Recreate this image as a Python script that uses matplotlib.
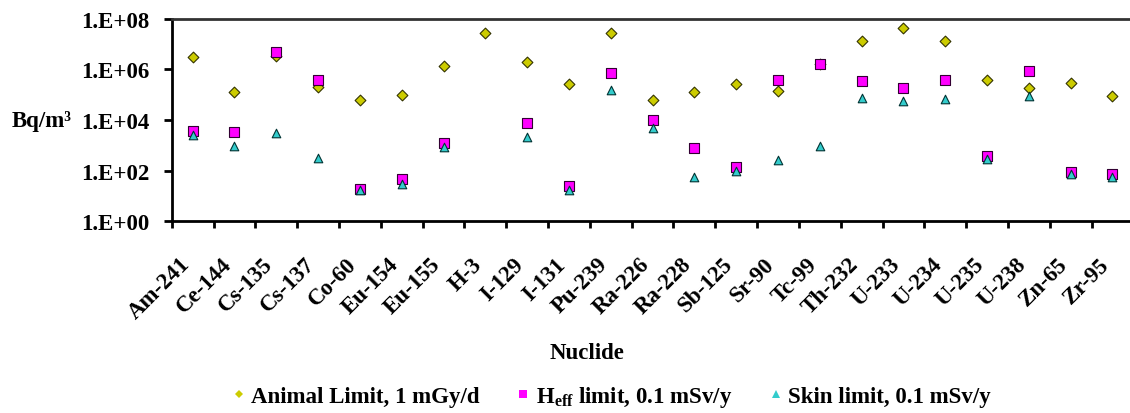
import numpy as np
import matplotlib
matplotlib.use("Agg")
import matplotlib.pyplot as plt
from matplotlib.lines import Line2D

plt.rcParams['font.family'] = ['Liberation Serif', 'DejaVu Serif']
plt.rcParams['font.weight'] = 'bold'
plt.rcParams['mathtext.fontset'] = 'custom'
plt.rcParams['mathtext.rm'] = 'Liberation Serif:bold'

nuclides = ['Am-241', 'Ce-144', 'Cs-135', 'Cs-137', 'Co-60', 'Eu-154', 'Eu-155', 'H-3',
            'I-129', 'I-131', 'Pu-239', 'Ra-226', 'Ra-228', 'Sb-125', 'Sr-90', 'Tc-99',
            'Th-232', 'U-233', 'U-234', 'U-235', 'U-238', 'Zn-65', 'Zr-95']

# Bq/m3
animal_limit = [3.0e6, 1.3e5, 3.3e6, 2.1e5, 6.3e4, 1.0e5, 1.4e6, 2.8e7,
                2.0e6, 2.7e5, 2.8e7, 6.3e4, 1.3e5, 2.7e5, 1.4e5, 1.6e6,
                1.3e7, 4.3e7, 1.3e7, 3.8e5, 1.8e5, 2.8e5, 8.7e4]
heff_limit = [3.8e3, 3.5e3, 5.0e6, 3.8e5, 19, 46, 1.3e3, np.nan,
              7.6e3, 25, 7.1e5, 9.8e3, 760, 135, 3.8e5, 1.6e6,
              3.6e5, 1.8e5, 3.8e5, 390, 8.9e5, 85, 72]
skin_limit = [2.5e3, 950, 3.1e3, 320, 17, 30, 830, np.nan,
              2.2e3, 17, 1.55e5, 5.0e3, 58, 100, 270, 950,
              7.2e4, 5.8e4, 6.8e4, 300, 9.1e4, 72, 58]

ytick_vals = [1e0, 1e2, 1e4, 1e6, 1e8]
ytick_labels = ['1.E+00', '1.E+02', '1.E+04', '1.E+06', '1.E+08']

labels = ['Animal Limit, 1 mGy/d', r'H$_{\mathregular{eff}}$ limit, 0.1 mSv/y',
          'Skin limit, 0.1 mSv/y']
colors = ['#CCCC00', '#FF00FF', '#33CCCC']

fig = plt.figure(figsize=(11.3, 4.14), dpi=100)
ax = fig.add_axes([0.152, 0.463, 0.851, 0.489])

x = np.arange(len(nuclides)) + 0.5
ax.scatter(x, animal_limit, marker='D', s=30, color=colors[0], edgecolors='#333300',
           linewidths=0.8, zorder=3)
ax.scatter(x, heff_limit, marker='s', s=50, color=colors[1], edgecolors='#330033',
           linewidths=0.8, zorder=4)
ax.scatter(x, skin_limit, marker='^', s=38, color=colors[2], edgecolors='#003333',
           linewidths=0.8, zorder=5)

ax.set_yscale('log')
ax.set_ylim(1, 1e8)
ax.set_xlim(0, len(nuclides))
ax.set_yticks(ytick_vals)
ax.set_yticklabels(ytick_labels)
ax.yaxis.set_minor_locator(matplotlib.ticker.NullLocator())

# boundary ticks, labels slightly left of each category centre (as in the original)
ax.set_xticks(np.arange(len(nuclides) + 1))
ax.set_xticklabels([])
ax.set_xticks(x - 0.33, minor=True)
ax.set_xticklabels(nuclides, minor=True, rotation=45, ha='right', va='top',
                   rotation_mode='anchor')
ax.tick_params(axis='x', which='minor', length=0, pad=23, labelsize=16.5)
ax.tick_params(axis='x', which='major', length=5, width=2, direction='out')
ax.tick_params(axis='y', which='major', length=6, width=2, direction='out',
               pad=10, labelsize=16.5)

for side in ['left', 'bottom']:
    ax.spines[side].set_linewidth(2)
ax.spines['top'].set_linewidth(2)
ax.spines['top'].set_color('#333333')
ax.spines['right'].set_visible(False)

fig.text(587 / 1130, 1 - 354 / 414, 'Nuclide', ha='center', va='center', fontsize=16.5)
fig.text(12 / 1130, 1 - 122 / 414, 'Bq/m³', ha='left', va='center', fontsize=16.5)

handles = [Line2D([], [], ls='none', marker=m, color=c, markersize=ms, markeredgewidth=0)
           for m, c, ms in zip(['D', 's', '^'], colors, [4.5, 5.5, 5.5])]
fig.legend(handles, labels, loc='center', bbox_to_anchor=(0.539, 0.041), ncol=3,
           frameon=False, fontsize=16.5, handletextpad=0.05, handlelength=1.0,
           columnspacing=1.4)

fig.savefig('out.png', dpi=100)
